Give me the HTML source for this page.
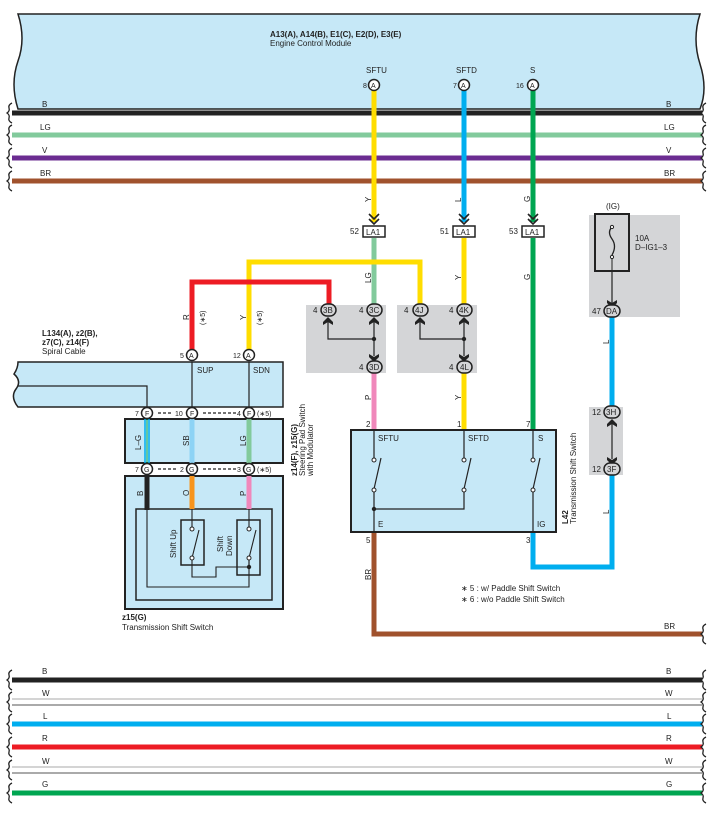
<!DOCTYPE html>
<html><head><meta charset="utf-8"><style>
body{margin:0;background:#fff}
svg{display:block;font-family:"Liberation Sans",sans-serif}
text{font-size:8px;fill:#222}
.b{font-weight:bold}
</style></head><body>
<svg width="715" height="813" viewBox="0 0 715 813" xmlns="http://www.w3.org/2000/svg">
<defs>
<g id="brace"><path d="M0,-10 q-4,2 -3,5 q1,3 -2,5 q3,2 2,5 q-1,3 3,5" fill="none" stroke="#222" stroke-width="1.3"/></g>
</defs>
<!-- ECM -->
<path d="M18,14 L700,14 q-8,25 0,50 q8,25 0,45 L18,109 q-8,-25 0,-48 q8,-22 0,-47z" fill="#c6e8f7" stroke="#222" stroke-width="1.5"/>
<text x="270" y="37" class="b">A13(A), A14(B), E1(C), E2(D), E3(E)</text>
<text x="270" y="46">Engine Control Module</text>
<text x="366" y="73">SFTU</text><text x="456" y="73">SFTD</text><text x="530" y="73">S</text>

<!-- top bus wires -->
<g stroke-width="5">
<line x1="12" y1="113" x2="702" y2="113" stroke="#222"/>
<line x1="12" y1="135" x2="702" y2="135" stroke="#82ca9c"/>
<line x1="12" y1="158" x2="702" y2="158" stroke="#6b2c91"/>
<line x1="12" y1="181" x2="702" y2="181" stroke="#a0522d"/>
</g>
<g><use href="#brace" x="12" y="113"/><use href="#brace" x="12" y="135"/><use href="#brace" x="12" y="158"/><use href="#brace" x="12" y="181"/>
<use href="#brace" x="706" y="113"/><use href="#brace" x="706" y="135"/><use href="#brace" x="706" y="158"/><use href="#brace" x="706" y="181"/></g>
<text x="42" y="107">B</text><text x="40" y="130">LG</text><text x="42" y="153">V</text><text x="40" y="176">BR</text>
<text x="666" y="107">B</text><text x="664" y="130">LG</text><text x="666" y="153">V</text><text x="664" y="176">BR</text>

<!-- vertical ECM wires -->
<g stroke-width="5" fill="none">
<line x1="374" y1="90" x2="374" y2="222" stroke="#ffdd00"/>
<line x1="464" y1="90" x2="464" y2="222" stroke="#00aeef"/>
<line x1="533" y1="90" x2="533" y2="222" stroke="#00a651"/>
<line x1="374" y1="238" x2="374" y2="305" stroke="#82ca9c"/>
<line x1="464" y1="238" x2="464" y2="305" stroke="#ffdd00"/>
<line x1="533" y1="238" x2="533" y2="432" stroke="#00a651"/>
<path d="M249,350 V262 H420 V305" stroke="#ffdd00"/>
<path d="M192,350 V282 H329 V305" stroke="#ed1c24"/>
<line x1="374" y1="373" x2="374" y2="432" stroke="#f088bb"/>
<line x1="464" y1="373" x2="464" y2="432" stroke="#ffdd00"/>
<path d="M374,532 V634 H702" stroke="#a0522d"/>
<path d="M533,532 V567 H612 V317" stroke="#00aeef"/>
</g>
<use href="#brace" x="706" y="634"/>
<text x="664" y="629">BR</text>
<!-- wire labels vertical -->
<g font-size="8">
<text transform="translate(371,202) rotate(-90)" style="font-size:8px">Y</text>
<text transform="translate(461,202) rotate(-90)" style="font-size:8px">L</text>
<text transform="translate(530,202) rotate(-90)" style="font-size:8px">G</text>
<text transform="translate(371,283) rotate(-90)" style="font-size:8px">LG</text>
<text transform="translate(461,280) rotate(-90)" style="font-size:8px">Y</text>
<text transform="translate(530,280) rotate(-90)" style="font-size:8px">G</text>
<text transform="translate(371,400) rotate(-90)" style="font-size:8px">P</text>
<text transform="translate(461,400) rotate(-90)" style="font-size:8px">Y</text>
<text transform="translate(371,580) rotate(-90)" style="font-size:8px">BR</text>
<text transform="translate(609,344) rotate(-90)" style="font-size:8px">L</text>
<text transform="translate(609,514) rotate(-90)" style="font-size:8px">L</text>
<text transform="translate(189,320) rotate(-90)" style="font-size:8px">R</text>
<text transform="translate(205,325) rotate(-90)" style="font-size:7px">(∗5)</text>
<text transform="translate(246,320) rotate(-90)" style="font-size:8px">Y</text>
<text transform="translate(262,325) rotate(-90)" style="font-size:7px">(∗5)</text>
</g>
<!-- ECM pins -->
<g fill="#fff" stroke="#222" stroke-width="1.5">
<circle cx="374" cy="85" r="5.5"/><circle cx="464" cy="85" r="5.5"/><circle cx="533" cy="85" r="5.5"/>
</g>
<g style="font-size:7px"><text x="371" y="88" style="font-size:7px">A</text><text x="461" y="88" style="font-size:7px">A</text><text x="530" y="88" style="font-size:7px">A</text>
<text x="363" y="88" style="font-size:7px">8</text><text x="453" y="88" style="font-size:7px">7</text><text x="516" y="88" style="font-size:7px">16</text></g>
<!-- chevrons + LA1 -->
<g fill="none" stroke="#222" stroke-width="1.6">
<path d="M369,214 l5,5 l5,-5 M369,219 l5,5 l5,-5"/>
<path d="M459,214 l5,5 l5,-5 M459,219 l5,5 l5,-5"/>
<path d="M528,214 l5,5 l5,-5 M528,219 l5,5 l5,-5"/>
</g>
<g fill="#fff" stroke="#222" stroke-width="1.5">
<rect x="363" y="226" width="22" height="11"/><rect x="453" y="226" width="22" height="11"/><rect x="522" y="226" width="22" height="11"/>
</g>
<text x="366" y="235">LA1</text><text x="456" y="235">LA1</text><text x="525" y="235">LA1</text>
<text x="350" y="234">52</text><text x="440" y="234">51</text><text x="509" y="234">53</text>

<!-- gray junction boxes -->
<g fill="#d4d5d7">
<rect x="306" y="305" width="80" height="68"/><rect x="397" y="305" width="80" height="68"/>
<rect x="589" y="215" width="91" height="102"/><rect x="589" y="407" width="34" height="68"/>
</g>
<g fill="none" stroke="#222" stroke-width="1.2">
<path d="M328,322 V339 H374 M374,322 V356"/><path d="M420,322 V339 H464 M464,322 V356"/>
<path d="M612,271 V303"/><path d="M612,422 V459"/>
</g>
<g fill="#222"><circle cx="374" cy="339" r="2.2"/><circle cx="464" cy="339" r="2.2"/>
<path d="M323,322 l5,-5 l5,5 v3 l-5,-3 l-5,3z"/><path d="M369,322 l5,-5 l5,5 v3 l-5,-3 l-5,3z"/>
<path d="M415,322 l5,-5 l5,5 v3 l-5,-3 l-5,3z"/><path d="M459,322 l5,-5 l5,5 v3 l-5,-3 l-5,3z"/>
<path d="M369,354 l5,3 l5,-3 v3 l-5,5 l-5,-5z"/><path d="M459,354 l5,3 l5,-3 v3 l-5,5 l-5,-5z"/>
<path d="M607,300 l5,3 l5,-3 v3 l-5,5 l-5,-5z"/><path d="M607,457 l5,3 l5,-3 v3 l-5,5 l-5,-5z"/>
<path d="M607,424 l5,-5 l5,5 v3 l-5,-3 l-5,3z"/></g>
<g fill="#d4d5d7" stroke="#222" stroke-width="1.5">
<rect x="321" y="304" width="15" height="12" rx="6"/><rect x="367" y="304" width="15" height="12" rx="6"/><rect x="367" y="361" width="15" height="12" rx="6"/>
<rect x="413" y="304" width="15" height="12" rx="6"/><rect x="457" y="304" width="15" height="12" rx="6"/><rect x="457" y="361" width="15" height="12" rx="6"/>
<rect x="604" y="305" width="16" height="12" rx="6"/><rect x="604" y="406" width="16" height="12" rx="6"/><rect x="604" y="463" width="16" height="12" rx="6"/>
</g>
<g style="font-size:7.5px">
<text x="323" y="313">3B</text><text x="369" y="313">3C</text><text x="369" y="370">3D</text>
<text x="415" y="313">4J</text><text x="459" y="313">4K</text><text x="460" y="370">4L</text>
<text x="606" y="314">DA</text><text x="606" y="415">3H</text><text x="607" y="472">3F</text>
<text x="313" y="313">4</text><text x="359" y="313">4</text><text x="359" y="370">4</text>
<text x="404" y="313">4</text><text x="449" y="313">4</text><text x="449" y="370">4</text>
<text x="592" y="314">47</text><text x="592" y="415">12</text><text x="592" y="472">12</text>
</g>
<!-- fuse -->
<rect x="595" y="214" width="34" height="57" fill="none" stroke="#222" stroke-width="2"/>
<path d="M612,227 q-5,5 0,12 q5,7 0,16" fill="none" stroke="#222" stroke-width="1.3"/>
<circle cx="612" cy="227" r="1.6" fill="#fff" stroke="#222"/><circle cx="612" cy="257" r="1.6" fill="#fff" stroke="#222"/>
<line x1="612" y1="259" x2="612" y2="271" stroke="#222"/>
<text x="606" y="209">(IG)</text><text x="635" y="241">10A</text><text x="635" y="250">D–IG1–3</text>

<!-- L42 -->
<rect x="351" y="430" width="205" height="102" fill="#c6e8f7" stroke="#222" stroke-width="2"/>
<g fill="none" stroke="#222" stroke-width="1.2">
<path d="M374,430 V459 M374,489 V532 M374,509 H464 V489 M464,430 V459 M533,430 V459 M533,489 V532"/>
<path d="M374,489 L381,458 M464,489 L471,458 M533,489 L540,458"/>
</g>
<g fill="#fff" stroke="#222"><circle cx="374" cy="460" r="2"/><circle cx="374" cy="490" r="2"/><circle cx="464" cy="460" r="2"/><circle cx="464" cy="490" r="2"/><circle cx="533" cy="460" r="2"/><circle cx="533" cy="490" r="2"/></g>
<circle cx="374" cy="509" r="2.2" fill="#222"/>
<text x="378" y="441">SFTU</text><text x="468" y="441">SFTD</text><text x="538" y="441">S</text>
<text x="378" y="527">E</text><text x="537" y="527">IG</text>
<text x="366" y="427">2</text><text x="457" y="427">1</text><text x="526" y="427">7</text>
<text x="366" y="543">5</text><text x="526" y="543">3</text>
<text transform="translate(568,524) rotate(-90)" class="b">L42</text>
<text transform="translate(576,524) rotate(-90)">Transmission Shift Switch</text>
<text x="461" y="591">∗ 5 : w/ Paddle Shift Switch</text>
<text x="461" y="602">∗ 6 : w/o Paddle Shift Switch</text>

<!-- spiral cable -->
<path d="M18,362 L283,362 L283,407 L18,407 q-8,-10 -2,-18 q6,-8 -2,-15 q4,-6 4,-12z" fill="#c6e8f7" stroke="#222" stroke-width="1.5"/>
<path d="M18,386 H147 V413" fill="none" stroke="#222" stroke-width="1.2"/>
<path d="M192,362 V413 M249,362 V413" stroke="#222" stroke-width="1.2"/>
<text x="197" y="373">SUP</text><text x="253" y="373">SDN</text>
<text x="42" y="336" class="b">L134(A), z2(B),</text><text x="42" y="345" class="b">z7(C), z14(F)</text><text x="42" y="354">Spiral Cable</text>
<!-- steering pad -->
<rect x="125" y="419" width="158" height="44" fill="#c6e8f7" stroke="#222" stroke-width="2"/>
<line x1="145" y1="419" x2="145" y2="463" stroke="#00aeef" stroke-width="1.5"/>
<line x1="147" y1="419" x2="147" y2="463" stroke="#00a651" stroke-width="1"/>
<line x1="149" y1="419" x2="149" y2="463" stroke="#00aeef" stroke-width="1.5"/>
<line x1="192" y1="419" x2="192" y2="463" stroke="#8dd3f5" stroke-width="5"/>
<line x1="249" y1="419" x2="249" y2="463" stroke="#82ca9c" stroke-width="5"/>
<text transform="translate(141,450) rotate(-90)">L–G</text>
<text transform="translate(189,446) rotate(-90)">SB</text>
<text transform="translate(246,446) rotate(-90)">LG</text>
<text transform="translate(297,476) rotate(-90)" class="b">z14(F), z15(G)</text>
<text transform="translate(305,476) rotate(-90)">Steering Pad Switch</text>
<text transform="translate(313,476) rotate(-90)">with Modulator</text>
<!-- transmission shift switch z15 -->
<rect x="125" y="476" width="158" height="133" fill="#c6e8f7" stroke="#222" stroke-width="2"/>
<rect x="136" y="509" width="136" height="91" fill="none" stroke="#222" stroke-width="1.5"/>
<line x1="147" y1="476" x2="147" y2="510" stroke="#222" stroke-width="5"/>
<line x1="192" y1="476" x2="192" y2="509" stroke="#f7941d" stroke-width="5"/>
<line x1="249" y1="476" x2="249" y2="509" stroke="#f088bb" stroke-width="5"/>
<rect x="181" y="520" width="23" height="45" fill="none" stroke="#222" stroke-width="1.5"/>
<rect x="237" y="520" width="23" height="55" fill="none" stroke="#222" stroke-width="1.5"/>
<g fill="none" stroke="#222" stroke-width="1.1">
<path d="M147,509 V587 H249 V559"/><path d="M192,509 V527 M192,558 V577 H216 V567 H249"/>
<path d="M249,509 V527 M249,558 V567 M192,558 L199,530 M249,558 L256,530"/>
</g>
<g fill="#fff" stroke="#222"><circle cx="192" cy="529" r="2"/><circle cx="192" cy="558" r="2"/><circle cx="249" cy="529" r="2"/><circle cx="249" cy="558" r="2"/></g>
<circle cx="249" cy="567" r="2.2" fill="#222"/>
<text transform="translate(176,558) rotate(-90)">Shift Up</text>
<text transform="translate(223,552) rotate(-90)">Shift</text><text transform="translate(232,556) rotate(-90)">Down</text>
<text transform="translate(143,496) rotate(-90)">B</text><text transform="translate(189,496) rotate(-90)">O</text><text transform="translate(246,496) rotate(-90)">P</text>
<text x="122" y="620" class="b">z15(G)</text><text x="122" y="630">Transmission Shift Switch</text>
<!-- F and G rows -->
<g stroke="#222" stroke-width="1.3" stroke-dasharray="3,2">
<line x1="158" y1="413" x2="172" y2="413"/><line x1="203" y1="413" x2="238" y2="413"/>
<line x1="158" y1="469" x2="177" y2="469"/><line x1="203" y1="469" x2="238" y2="469"/>
</g>
<g fill="#fff" stroke="#222" stroke-width="1.5">
<circle cx="192" cy="355" r="5.5"/><circle cx="249" cy="355" r="5.5"/>
<circle cx="147" cy="413" r="5.5"/><circle cx="192" cy="413" r="5.5"/><circle cx="249" cy="413" r="5.5"/>
<circle cx="147" cy="469" r="5.5"/><circle cx="192" cy="469" r="5.5"/><circle cx="249" cy="469" r="5.5"/>
</g>
<g style="font-size:7px">
<text x="189" y="358" style="font-size:7px">A</text><text x="246" y="358" style="font-size:7px">A</text>
<text x="180" y="358" style="font-size:7px">5</text><text x="233" y="358" style="font-size:7px">12</text>
<text x="145" y="416" style="font-size:7px">F</text><text x="190" y="416" style="font-size:7px">F</text><text x="247" y="416" style="font-size:7px">F</text>
<text x="144" y="472" style="font-size:7px">G</text><text x="189" y="472" style="font-size:7px">G</text><text x="246" y="472" style="font-size:7px">G</text>
<text x="135" y="416" style="font-size:7px">7</text><text x="175" y="416" style="font-size:7px">10</text><text x="237" y="416" style="font-size:7px">4</text>
<text x="135" y="472" style="font-size:7px">7</text><text x="180" y="472" style="font-size:7px">2</text><text x="237" y="472" style="font-size:7px">3</text>
<text x="257" y="416" style="font-size:7px">(∗5)</text><text x="257" y="472" style="font-size:7px">(∗5)</text>
</g>

<!-- bottom bus -->
<g stroke-width="5">
<line x1="12" y1="680" x2="702" y2="680" stroke="#222"/>
<line x1="12" y1="724" x2="702" y2="724" stroke="#00aeef"/>
<line x1="12" y1="747" x2="702" y2="747" stroke="#ed1c24"/>
<line x1="12" y1="793" x2="702" y2="793" stroke="#00a651"/>
</g>
<g stroke-width="1.3">
<line x1="12" y1="699" x2="702" y2="699" stroke="#bbb"/><line x1="12" y1="705" x2="702" y2="705" stroke="#777"/>
<line x1="12" y1="767" x2="702" y2="767" stroke="#bbb"/><line x1="12" y1="773" x2="702" y2="773" stroke="#777"/>
</g>
<use href="#brace" x="12" y="680"/><use href="#brace" x="12" y="702"/><use href="#brace" x="12" y="724"/><use href="#brace" x="12" y="747"/><use href="#brace" x="12" y="770"/><use href="#brace" x="12" y="793"/>
<use href="#brace" x="706" y="680"/><use href="#brace" x="706" y="702"/><use href="#brace" x="706" y="724"/><use href="#brace" x="706" y="747"/><use href="#brace" x="706" y="770"/><use href="#brace" x="706" y="793"/>
<text x="42" y="674">B</text><text x="42" y="696">W</text><text x="43" y="719">L</text><text x="42" y="741">R</text><text x="42" y="764">W</text><text x="42" y="787">G</text>
<text x="666" y="674">B</text><text x="665" y="696">W</text><text x="667" y="719">L</text><text x="666" y="741">R</text><text x="665" y="764">W</text><text x="666" y="787">G</text>
</svg>
</body></html>
